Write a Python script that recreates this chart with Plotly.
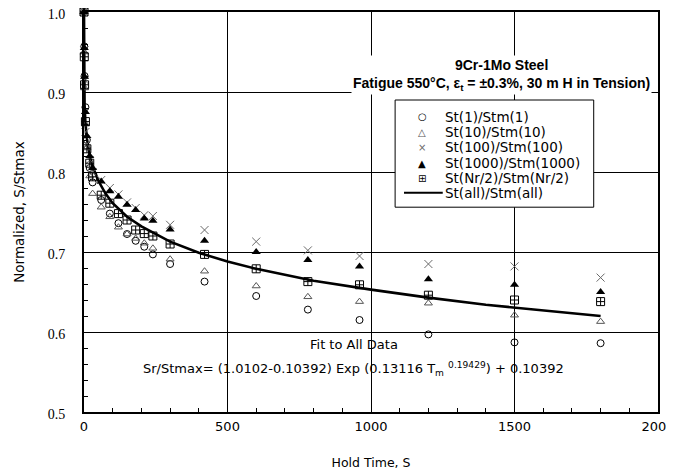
import plotly.graph_objects as go

# hold times (s) and normalized stress ratios
hold_time = [0, 1, 2, 5, 10, 20, 30, 60, 90, 120, 150, 180, 210, 240, 300, 420, 600, 780, 960, 1200, 1500, 1800]

st_1 = [1.0, 0.957, 0.92, 0.881, 0.84, 0.805, 0.787, 0.765, 0.748, 0.736, 0.7225, 0.714, 0.7066, 0.697, 0.685,
        0.663, 0.645, 0.628, 0.615, 0.597, 0.587, 0.586]
st_10 = [1.0, 0.95, 0.905, 0.86, 0.83, 0.795, 0.773, 0.756, 0.744, 0.731, 0.7225, 0.717, 0.711, 0.7046, 0.691,
         0.676, 0.6575, 0.644, 0.638, 0.636, 0.621, 0.613]
st_100 = [1.0, 0.952, 0.915, 0.85, 0.835, 0.815, 0.80, 0.79, 0.78, 0.772, 0.762, 0.755, 0.746, 0.745, 0.734,
          0.7275, 0.713, 0.702, 0.695, 0.685, 0.682, 0.668]
st_1000 = [1.0, 0.955, 0.919, 0.875, 0.845, 0.82, 0.805, 0.788, 0.776, 0.769, 0.759, 0.7525, 0.742, 0.739, 0.728,
           0.714, 0.70, 0.69, 0.682, 0.666, 0.659, 0.65]
st_nr2 = [1.0, 0.944, 0.909, 0.863, 0.829, 0.811, 0.794, 0.771, 0.761, 0.748, 0.74, 0.7275, 0.723, 0.72, 0.71,
          0.697, 0.679, 0.663, 0.659, 0.646, 0.64, 0.638]

# fitted curve, St(all)/Stm(all)
fit_time = [0, 0.1, 1, 2, 5, 10, 20, 30, 50, 75, 100, 150, 200, 250, 300, 400, 500, 600, 800, 1000, 1200,
            1400, 1600, 1800]
fit_value = [1.0, 0.937, 0.899, 0.884, 0.861, 0.842, 0.821, 0.807, 0.789, 0.773, 0.761, 0.744, 0.732, 0.722,
             0.713, 0.699, 0.688, 0.679, 0.664, 0.653, 0.643, 0.634, 0.627, 0.620]

series_names = ['St(1)/Stm(1)', 'St(10)/Stm(10)', 'St(100)/Stm(100)', 'St(1000)/Stm(1000)',
                'St(Nr/2)/Stm(Nr/2)', 'St(all)/Stm(all)']
legend_symbols = ['○', '△', '×', '▲', '⊞']

sans = 'DejaVu Sans'

fig = go.Figure()

# fit line underneath the markers
fig.add_trace(go.Scatter(x=fit_time, y=fit_value, mode='lines',
                         line=dict(color='black', width=2.6), name=series_names[5],
                         showlegend=False, cliponaxis=False))

marker_styles = [
    (st_1, dict(symbol='circle-open', size=7, color='black', line=dict(width=1, color='black'))),
    (st_10, dict(symbol='triangle-up-open', size=7, color='#555555', line=dict(width=1, color='#555555'))),
    (st_100, dict(symbol='x-thin-open', size=8, color='#6a6a6a', line=dict(width=1, color='#6a6a6a'))),
    (st_1000, dict(symbol='triangle-up', size=8, color='black', line=dict(width=0))),
    (st_nr2, dict(symbol='square-cross-open', size=8, color='black', line=dict(width=1, color='black'))),
]
for i in range(len(marker_styles)):
    vals, mk = marker_styles[i]
    fig.add_trace(go.Scatter(x=hold_time, y=vals, mode='markers', marker=mk,
                             name=series_names[i], showlegend=False, cliponaxis=False))

fig.update_xaxes(range=[0, 2000], dtick=500, showgrid=True, gridcolor='black', gridwidth=1, automargin=False,
                 zeroline=False, showline=True, linecolor='black', linewidth=2, mirror=True,
                 ticks='inside', ticklen=5, tickcolor='black', ticklabeloverflow='allow',
                 minor=dict(dtick=100, ticks='inside', ticklen=4, tickcolor='black', showgrid=False),
                 tickfont=dict(family=sans, size=13, color='black'), ticklabelstandoff=1,
                 title=dict(text='Hold Time, S', font=dict(family=sans, size=12.5, color='black'), standoff=26))
fig.update_yaxes(range=[0.5, 1.0], dtick=0.1, tickformat='.1f', showgrid=True, gridcolor='black', gridwidth=1,
                 automargin=False, ticklabeloverflow='allow', ticklabelshift=2,
                 zeroline=False, showline=True, linecolor='black', linewidth=2, mirror=True,
                 ticks='inside', ticklen=5, tickcolor='black',
                 minor=dict(dtick=0.02, ticks='inside', ticklen=4, tickcolor='black', showgrid=False),
                 tickfont=dict(family='Liberation Serif', size=14, color='black'), ticklabelstandoff=14,
                 title=dict(text='Normalized, S/Stmax', font=dict(family=sans, size=13.5, color='black'), standoff=20))

# legend box drawn by hand so rows keep the tight spacing of the original
fig.add_shape(type='rect', xref='x', yref='y', x0=1084, x1=1776, y0=0.756, y1=0.89,
              fillcolor='white', line=dict(color='black', width=1), layer='above')
row_y = [0.869, 0.850, 0.831, 0.811, 0.7925, 0.774]
sym_colors = ['black', '#555555', '#6a6a6a', 'black', 'black']
for i in range(len(legend_symbols)):
    fig.add_annotation(x=1178, y=row_y[i], xref='x', yref='y', text=legend_symbols[i], showarrow=False,
                       font=dict(family=sans, size=10, color=sym_colors[i]))
for i in range(len(series_names)):
    fig.add_annotation(x=1252, y=row_y[i], xref='x', yref='y', text=series_names[i], showarrow=False,
                       xanchor='left', font=dict(family=sans, size=13.5, color='black'))
fig.add_shape(type='line', xref='x', yref='y', x0=1115, x1=1250, y0=row_y[5], y1=row_y[5],
              line=dict(color='black', width=2), layer='above')

# title block
fig.add_annotation(x=1456, y=0.921, xref='x', yref='y', showarrow=False, bgcolor='white',
                   text='<b>9Cr-1Mo Steel</b><br><b>Fatigue 550°C, ε<sub>t</sub> = ±0.3%, 30 m H in Tension)</b>',
                   font=dict(family='Liberation Sans', size=14, color='black'))

# fit annotation
fig.add_annotation(x=940, y=0.585, xref='x', yref='y', text='Fit to All Data', showarrow=False,
                   font=dict(family=sans, size=13, color='black'))
fig.add_annotation(x=940, y=0.554, xref='x', yref='y', showarrow=False,
                   text='Sr/Stmax= (1.0102-0.10392) Exp (0.13116 T<sub>m</sub> <sup>0.19429</sup>) + 0.10392',
                   font=dict(family=sans, size=13, color='black'))

# the page body adds an 8px offset, so the figure is trimmed to fit the window
# and the margins are shifted to land the plot where the original has it
fig.update_layout(width=666, height=462, margin=dict(l=76, r=16, t=4, b=58),
                  plot_bgcolor='white', paper_bgcolor='white', showlegend=False)

fig.write_html("out.html")
